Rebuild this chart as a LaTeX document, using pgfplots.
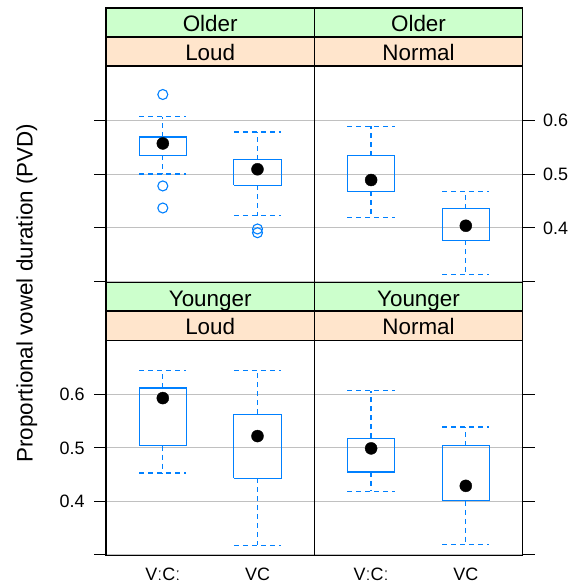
\documentclass[border=0pt]{standalone}
\usepackage{fontspec}
\setmainfont{Liberation Sans}
\usepackage{pgfplots}
\pgfplotsset{compat=1.18}
\definecolor{boxblue}{HTML}{0080FF}
\definecolor{stripgreen}{HTML}{CCFFCC}
\definecolor{striporange}{HTML}{FFE5CC}
\definecolor{gridgray}{RGB}{192,192,192}
\pgfplotsset{
  panel/.style={
    scale only axis, width=208.3bp,
    xmin=0.4, xmax=2.6, ymin=0.2985, ymax=0.701,
    xtick={1,2}, xticklabels={},
    ytick={0.3,0.4,0.5,0.6}, yticklabels={},
    ymajorgrids, grid style={gridgray, line width=0.9bp},
    axis line style={line width=1.1bp, black},
    tick style={line width=1.1bp, black},
    major tick length=12bp,
    tick align=outside,
    xtick style={draw=none},
    ticklabel style={font=\fontsize{18}{20}\selectfont},
  },
  bxl/.style={boxblue, line width=1.2bp, solid, mark=none},
  whl/.style={boxblue, line width=1.3bp, dash pattern=on 5bp off 4bp, mark=none},
  med/.style={only marks, mark=*, mark size=6bp, black},
  outl/.style={only marks, mark=o, mark size=5bp, mark options={solid, draw=boxblue, line width=1.1bp}},
}
% #1 left, #2 centre, #3 right, #4 lower whisker, #5 lower quartile, #6 median, #7 upper quartile, #8 upper whisker
\newcommand\bw[8]{%
  \addplot[bxl] coordinates {(#1,#5) (#3,#5) (#3,#7) (#1,#7) (#1,#5)};
  \addplot[whl] coordinates {(#2,#5) (#2,#4)};
  \addplot[whl] coordinates {(#1,#4) (#3,#4)};
  \addplot[whl] coordinates {(#2,#7) (#2,#8)};
  \addplot[whl] coordinates {(#1,#8) (#3,#8)};
  \addplot[med] coordinates {(#2,#6)};
}
\begin{document}
\begin{tikzpicture}[x=1bp,y=1bp]
\path[use as bounding box] (0,0) rectangle (580,586);
% Top-left: Older, Loud
\begin{axis}[panel, height=216.5bp, at={(106bp,303.5bp)}, anchor=south west, ytick pos=left]
\bw{0.75}{1}{1.25}{0.500}{0.535}{0.557}{0.569}{0.607}
\addplot[outl] coordinates {(1,0.648) (1,0.478) (1,0.437)};
\bw{1.75}{2}{2.25}{0.423}{0.479}{0.509}{0.527}{0.578}
\addplot[outl] coordinates {(2,0.398) (2,0.391)};
\end{axis}
% Top-right: Older, Normal
\begin{axis}[panel, height=216.5bp, at={(314.3bp,303.5bp)}, anchor=south west, ytick pos=right,
  yticklabels={{},0.4,0.5,0.6}, yticklabel style={xshift=5bp}]
\bw{0.75}{1}{1.25}{0.419}{0.468}{0.489}{0.534}{0.589}
\bw{1.75}{2}{2.25}{0.313}{0.377}{0.404}{0.436}{0.468}
\end{axis}
% Bottom-left: Younger, Loud
\begin{axis}[panel, height=215.4bp, at={(106bp,30.3bp)}, anchor=south west, ytick pos=left,
  yticklabels={{},0.4,0.5,0.6}, yticklabel style={xshift=-6bp},
  xticklabels={VːCː,VC}, xticklabel style={yshift=3bp}]
\bw{0.75}{1}{1.25}{0.453}{0.504}{0.593}{0.612}{0.645}
\bw{1.75}{2}{2.25}{0.318}{0.443}{0.522}{0.563}{0.644}
\end{axis}
% Bottom-right: Younger, Normal
\begin{axis}[panel, height=215.4bp, at={(314.3bp,30.3bp)}, anchor=south west, ytick pos=right,
  xticklabels={VːCː,VC}, xticklabel style={yshift=3bp}]
\bw{0.75}{1}{1.25}{0.419}{0.455}{0.499}{0.518}{0.607}
\bw{1.75}{2}{2.25}{0.319}{0.401}{0.429}{0.504}{0.539}
\end{axis}
% strips
\begin{scope}[line width=1.1bp]
\draw[fill=stripgreen] (106,549) rectangle (314.3,578);
\draw[fill=striporange] (106,520) rectangle (314.3,549);
\draw[fill=stripgreen] (314.3,549) rectangle (522.6,578);
\draw[fill=striporange] (314.3,520) rectangle (522.6,549);
\draw[fill=stripgreen] (106,275) rectangle (314.3,303.5);
\draw[fill=striporange] (106,245.7) rectangle (314.3,275);
\draw[fill=stripgreen] (314.3,275) rectangle (522.6,303.5);
\draw[fill=striporange] (314.3,245.7) rectangle (522.6,275);
\end{scope}
\begin{scope}[every node/.style={anchor=base, font=\fontsize{22.5}{27}\selectfont, inner sep=0pt}]
\node at (210.2,554) {Older};
\node at (210.2,525) {Loud};
\node at (418.5,554) {Older};
\node at (418.5,525) {Normal};
\node at (210.2,279.5) {Younger};
\node at (210.2,251) {Loud};
\node at (418.5,279.5) {Younger};
\node at (418.5,251) {Normal};
\node[rotate=90] at (32.5,293) {Proportional vowel duration (PVD)};
\end{scope}
\end{tikzpicture}
\end{document}
